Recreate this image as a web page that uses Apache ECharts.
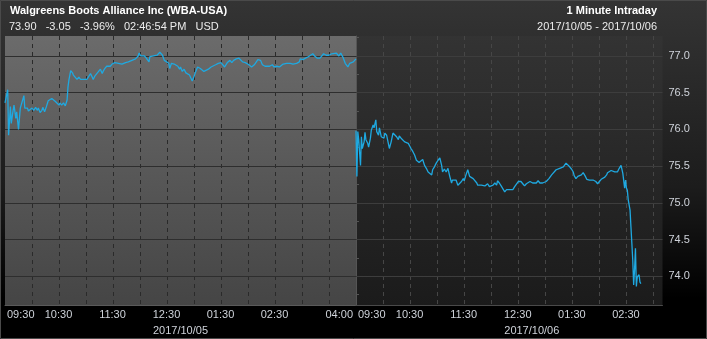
<!DOCTYPE html>
<html>
<head>
<meta charset="utf-8">
<script src="https://cdn.jsdelivr.net/npm/echarts@6/dist/echarts.min.js"></script>
<style>
html,body{margin:0;padding:0;background:#000;}
#chart{width:707px;height:339px;}
</style>
</head>
<body>
<div id="chart"></div>
<script>
// ---- data (minutes after the 09:30 open, price) ----
const day1Date = '2017/10/05';
const day2Date = '2017/10/06';
const day1Minutes = [0,3,4,6,7,9,10,12,13,15,17,19,21,22,25,26,28,30,32,34,36,37,39,41,42,44,46,48,50,52,54,56,58,60,61,63,65,67,69,70,71,73,75,76,78,80,82,84,86,87,89,91,93,95,97,98,100,102,104,106,108,109,111,113,115,117,119,121,122,124,126,128,130,132,134,135,137,139,141,143,145,146,148,149,151,153,155,157,158,160,161,165,169,172,175,177,179,182,183,185,188,190,192,194,195,197,199,201,203,205,206,208,210,212,214,216,217,219,221,223,226,229,231,234,237,240,242,244,247,250,252,254,257,259,260,262,264,267,269,271,274,277,279,281,284,286,289,291,294,297,299,302,305,309,313,317,320,324,327,328,331,334,337,339,342,344,347,350,352,354,357,360,363,365,368,369,371,373,375,376,378,381,383,385,387,390];
const day1Prices = [76.36,76.54,75.92,76.31,76.08,76.26,76.33,76.15,76.24,76.00,76.29,76.31,76.46,76.29,76.29,76.25,76.26,76.29,76.26,76.30,76.26,76.29,76.23,76.26,76.30,76.24,76.31,76.39,76.40,76.42,76.40,76.38,76.36,76.33,76.36,76.33,76.36,76.32,76.40,76.58,76.67,76.80,76.77,76.74,76.76,76.68,76.71,76.68,76.70,76.68,76.70,76.68,76.72,76.76,76.71,76.68,76.73,76.75,76.79,76.82,76.76,76.79,76.83,76.86,76.88,76.86,76.89,76.88,76.91,76.92,76.90,76.92,76.89,76.89,76.91,76.90,76.92,76.94,76.94,76.96,76.96,76.97,77.00,77.04,77.00,76.99,77.00,76.97,76.98,76.92,76.99,77.00,77.01,77.05,77.01,76.94,76.92,76.90,76.83,76.90,76.89,76.90,76.86,76.82,76.85,76.79,76.82,76.77,76.79,76.74,76.72,76.66,76.72,76.79,76.85,76.86,76.83,76.85,76.79,76.81,76.82,76.85,76.86,76.88,76.90,76.91,76.92,76.85,76.91,76.94,76.91,76.94,76.96,76.94,76.97,76.95,76.92,76.91,76.90,76.88,76.85,76.88,76.90,76.95,76.94,76.88,76.86,76.85,76.86,76.88,76.85,76.86,76.85,76.89,76.90,76.90,76.89,76.90,76.92,76.96,76.95,76.97,76.99,77.00,77.03,77.00,76.97,76.97,76.99,77.03,77.01,77.01,77.03,77.01,77.04,77.04,77.00,77.04,77.05,76.97,76.90,76.85,76.90,76.88,76.92,76.96];
const day2Minutes = [0,1,2,3,5,6,7,9,10,11,13,14,16,17,19,20,22,23,25,26,28,29,31,32,34,35,37,39,41,43,45,47,48,50,52,54,56,58,60,61,63,65,67,69,70,72,74,76,78,80,82,84,85,87,89,91,93,95,96,98,100,102,104,106,107,109,111,113,115,117,119,120,122,124,126,128,130,132,134,135,137,139,141,143,145,146,148,150,152,154,156,157,159,161,163,165,167,168,170,172,174,176,178,180,181,183,185,187,189,191,193,194,196,198,200,202,204,207,211,214,217,219,222,224,226,228,230,231,233,235,237,239,241,242,244,246,248,250,252,254,256,257,259,261,263,265,266,268,270,272,274,276,278,279,281,283,285,287,289,290,292,294,296,298,299,300,301,302,304,305,306,307,308,309,310,311,312,313,314,315,316];
const day2Prices = [75.98,75.36,75.97,75.86,75.51,75.90,75.74,75.83,75.96,75.86,75.81,75.76,75.88,75.99,76.06,76.02,76.13,75.97,75.92,76.02,75.90,75.92,75.88,75.95,75.92,75.86,75.74,75.83,75.95,75.96,75.90,75.86,75.91,75.88,75.87,75.83,75.81,75.81,75.81,75.74,75.70,75.65,75.58,75.56,75.55,75.56,75.59,75.51,75.47,75.42,75.41,75.38,75.45,75.49,75.54,75.58,75.61,75.51,75.42,75.46,75.42,75.47,75.36,75.27,75.31,75.29,75.31,75.24,75.22,75.29,75.33,75.30,75.38,75.45,75.36,75.37,75.33,75.31,75.27,75.24,75.23,75.24,75.22,75.23,75.24,75.26,75.22,75.23,75.24,75.27,75.24,75.30,75.27,75.23,75.21,75.15,75.18,75.20,75.18,75.20,75.18,75.22,75.24,75.29,75.27,75.29,75.26,75.23,75.26,75.27,75.29,75.30,75.27,75.29,75.27,75.30,75.27,75.27,75.29,75.33,75.38,75.40,75.45,75.46,75.47,75.46,75.49,75.51,75.54,75.53,75.49,75.46,75.42,75.37,75.33,75.36,75.35,75.38,75.41,75.37,75.32,75.33,75.31,75.30,75.31,75.32,75.29,75.26,75.29,75.32,75.33,75.35,75.38,75.41,75.43,75.44,75.42,75.42,75.40,75.42,75.47,75.51,75.40,75.20,75.31,75.20,75.17,75.04,74.90,74.67,74.45,74.22,73.88,74.09,74.38,73.86,73.99,73.97,74.02,73.92,73.90];
const yTicks = [74.0, 74.5, 75.0, 75.5, 76.0, 76.5, 77.0];
const yMinorTicks = [73.75, 74.25, 74.75, 75.25, 75.75, 76.25, 76.75, 77.25];
const yMin = 73.608, yMax = 77.272;
const day1TickLabels = ['09:30','10:30','11:30','12:30','01:30','02:30','04:00'];
const day2TickLabels = ['09:30','10:30','11:30','12:30','01:30','02:30'];
const sessionMinutes = 390;
const day2AxisMax = 340;
const headerTitle = 'Walgreens Boots Alliance Inc (WBA-USA)';
const quoteParts = ['73.90', '-3.05', '-3.96%', '02:46:54 PM', 'USD'];
const rightTitle = '1 Minute Intraday';
const rightSub = day1Date + ' - ' + day2Date;

const FONT = '"Liberation Sans", Arial, sans-serif';
function minuteToLabel(m) {
  let total = 9 * 60 + 30 + m;
  let h = Math.floor(total / 60), mm = total % 60;
  if (h > 12) h -= 12;
  return String(h).padStart(2, '0') + ':' + String(mm).padStart(2, '0');
}
function pairs(ms, ps) { return ms.map((m, i) => [m, ps[i]]); }
function vgrad(c0, c1) {
  return { type: 'linear', x: 0, y: 0, x2: 0, y2: 1, colorStops: [{ offset: 0, color: c0 }, { offset: 1, color: c1 }] };
}

const chart = echarts.init(document.getElementById('chart'), null, { renderer: 'canvas' });
const timeLabelStyle = { color: '#cfd3da', fontSize: 11, fontFamily: FONT, margin: 4, padding: [0, 3, 0, 2] };

const option = {
  animation: false,
  backgroundColor: {
    type: 'linear', x: 0, y: 0, x2: 0, y2: 1,
    colorStops: [{ offset: 0, color: '#343434' }, { offset: 0.55, color: '#1c1c1c' }, { offset: 0.88, color: '#000000' }, { offset: 1, color: '#000000' }]
  },
  textStyle: { fontFamily: FONT },
  title: [
    { text: headerTitle, left: 5, top: 0, textStyle: { color: '#ffffff', fontSize: 11, fontWeight: 'bold', fontFamily: FONT } },
    { text: quoteParts.join('   '), left: 4, top: 16, textStyle: { color: '#ececec', fontSize: 11, fontWeight: 'normal', fontFamily: FONT } },
    { text: rightTitle, right: 45, top: 0, textStyle: { color: '#ffffff', fontSize: 11, fontWeight: 'bold', fontFamily: FONT } },
    { text: rightSub, right: 45, top: 16, textStyle: { color: '#ececec', fontSize: 11, fontWeight: 'normal', fontFamily: FONT } }
  ],
  grid: [
    { left: 5, top: 36, width: 351, height: 269, show: true, borderWidth: 0, backgroundColor: vgrad('#6b6b6b', '#454545') },
    { left: 356, top: 36, width: 306.5, height: 269, show: true, borderWidth: 0, backgroundColor: vgrad('#333333', '#1b1b1b') }
  ],
  xAxis: [
    {
      gridIndex: 0, type: 'value', min: 0, max: sessionMinutes, interval: 30,
      axisLine: { show: true, lineStyle: { color: '#5a5a5a', width: 1 } },
      axisTick: { show: false },
      axisLabel: Object.assign({}, timeLabelStyle, {
        alignMinLabel: 'left', alignMaxLabel: 'right',
        formatter: v => { const s = minuteToLabel(v); return day1TickLabels.includes(s) ? s : ''; }
      }),
      splitLine: { show: true, showMinLine: false, showMaxLine: false, lineStyle: { color: '#2a2a2a', type: [4, 4], width: 1 } }
    },
    {
      gridIndex: 1, type: 'value', min: 0, max: day2AxisMax, interval: 30,
      axisLine: { show: true, lineStyle: { color: '#4a4a4a', width: 1 } },
      axisTick: { show: false },
      axisLabel: Object.assign({}, timeLabelStyle, {
        alignMinLabel: 'left', alignMaxLabel: 'right',
        formatter: v => { const s = minuteToLabel(v); return (v < day2AxisMax && day2TickLabels.includes(s)) ? s : ''; }
      }),
      splitLine: { show: true, showMinLine: false, showMaxLine: false, lineStyle: { color: '#464646', type: [4, 4], width: 1 } }
    },
    {
      gridIndex: 0, type: 'value', min: 0, max: sessionMinutes, position: 'bottom', offset: 15,
      axisLine: { show: false }, axisTick: { show: false }, splitLine: { show: false },
      axisLabel: { color: '#cfd3da', fontSize: 11, fontFamily: FONT, margin: 5, customValues: [sessionMinutes / 2], formatter: () => day1Date }
    },
    {
      gridIndex: 1, type: 'value', min: 0, max: day2AxisMax, position: 'bottom', offset: 15,
      axisLine: { show: false }, axisTick: { show: false }, splitLine: { show: false },
      axisLabel: { color: '#cfd3da', fontSize: 11, fontFamily: FONT, margin: 5, customValues: [sessionMinutes / 2], formatter: () => day2Date }
    }
  ],
  yAxis: [
    { gridIndex: 0, type: 'value', min: yMin, max: yMax, show: false },
    {
      gridIndex: 1, type: 'value', min: yMin, max: yMax, position: 'right',
      axisLine: { show: true, lineStyle: { color: '#555555' } },
      axisTick: { show: true, length: 3, inside: false, customValues: yMinorTicks.concat(yTicks), lineStyle: { color: '#555555' } },
      axisLabel: { color: '#cfd3da', fontSize: 11, fontFamily: FONT, margin: 6, customValues: yTicks, formatter: v => v.toFixed(1) },
      splitLine: { show: false }
    }
  ],
  series: [
    {
      type: 'line', xAxisIndex: 0, yAxisIndex: 0, data: pairs(day1Minutes, day1Prices),
      showSymbol: false, symbol: 'none', lineStyle: { color: '#1fa9e1', width: 1.3 }, z: 5,
      markLine: {
        silent: true, symbol: 'none', label: { show: false }, z: 1,
        lineStyle: { color: '#2e2e2e', type: 'solid', width: 1.2 },
        data: yTicks.map(v => ({ yAxis: v }))
      }
    },
    {
      type: 'line', xAxisIndex: 1, yAxisIndex: 1, data: pairs(day2Minutes, day2Prices),
      showSymbol: false, symbol: 'none', lineStyle: { color: '#1fa9e1', width: 1.3 }, z: 5,
      markLine: {
        silent: true, symbol: 'none', label: { show: false }, z: 1,
        lineStyle: { color: '#3d3d3d', type: 'solid', width: 1.2 },
        data: yTicks.map(v => ({ yAxis: v }))
      }
    }
  ],
  graphic: [
    { type: 'rect', shape: { x: 0.5, y: 0.5, width: 706, height: 338 }, style: { fill: 'none', stroke: '#4a4a4a', lineWidth: 1 }, silent: true, z: 100 }
  ]
};
chart.setOption(option);
</script>
</body>
</html>
